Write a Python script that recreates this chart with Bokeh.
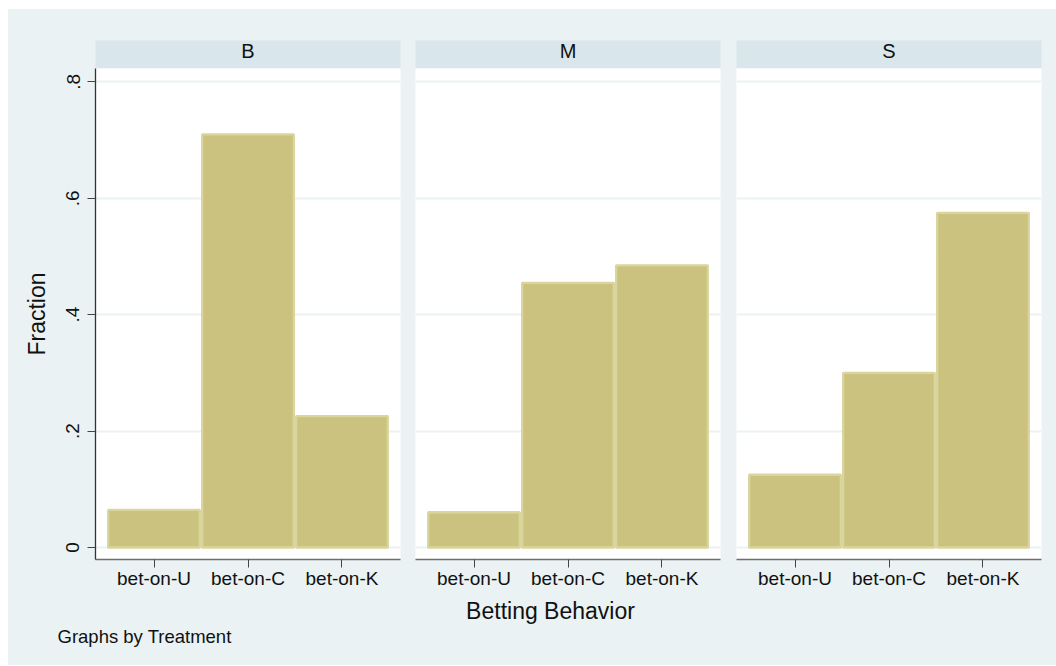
from bokeh.plotting import figure
from bokeh.models import FactorRange, Range1d, FixedTicker, Label, Spacer
from bokeh.layouts import row, column
from bokeh.embed import file_html
from bokeh.resources import INLINE

# ---------------- data ----------------
treatments = ["B", "M", "S"]
categories = ["bet-on-U", "bet-on-C", "bet-on-K"]
frac_B = [0.0645, 0.7097, 0.2258]
frac_M = [0.0606, 0.4545, 0.4848]
frac_S = [0.125, 0.300, 0.575]
y_ticks = [0, 0.2, 0.4, 0.6, 0.8]
y_tick_labels = ["0", ".2", ".4", ".6", ".8"]
y_title = "Fraction"
x_title = "Betting Behavior"
note = "Graphs by Treatment"

# ---------------- style ----------------
FONT = "Liberation Sans"
BG = "#EAF2F3"
STRIP = "#D9E6EB"
BAR_FILL = "#CAC27E"
BAR_LINE = "#DAD59D"
TXT = "#111111"

series = [frac_B, frac_M, frac_S]
widths = [400, 320, 328]
left_b = [87, 7, 8]
right_b = [8, 8, 15]

headers = []
panels = []
for i, (name, vals) in enumerate(zip(treatments, series)):
    # header strip
    h = figure(width=widths[i], height=59, x_range=Range1d(0, 1), y_range=Range1d(0, 28),
               toolbar_location=None, output_backend="svg",
               x_axis_location=None, y_axis_location=None,
               min_border_left=left_b[i], min_border_right=right_b[i],
               min_border_top=31, min_border_bottom=0)
    h.background_fill_color = STRIP
    h.border_fill_color = BG
    h.outline_line_color = None
    h.grid.visible = False
    h.add_layout(Label(x=0.5, y=17.8, text=name, text_align="center",
                       text_baseline="alphabetic", text_font=FONT,
                       text_font_size="20px", text_color=TXT))
    headers.append(h)

    # panel
    p = figure(width=widths[i], height=531,
               x_range=FactorRange(factors=categories, range_padding=0.0817),
               y_range=Range1d(-0.0206, 0.8229),
               toolbar_location=None, output_backend="svg",
               y_axis_location="left" if i == 0 else None,
               min_border_left=left_b[i], min_border_right=right_b[i],
               min_border_top=0, min_border_bottom=40)
    p.background_fill_color = "white"
    p.border_fill_color = BG
    p.outline_line_color = None
    p.xgrid.visible = False
    p.ygrid.ticker = FixedTicker(ticks=y_ticks)
    p.ygrid.grid_line_color = BG
    p.ygrid.grid_line_width = 2

    p.vbar(x=categories, top=vals, bottom=0, width=0.975,
           fill_color=BAR_FILL, line_color=BAR_LINE, line_width=2.3)

    xa = p.xaxis[0]
    xa.axis_line_color = "#6E6E6E"
    xa.axis_line_width = 1.3
    xa.major_tick_line_color = "#444444"
    xa.major_tick_out = 8
    xa.major_tick_in = 0
    xa.minor_tick_line_color = None
    xa.major_label_text_font = FONT
    xa.major_label_text_font_size = "19px"
    xa.major_label_text_color = TXT
    xa.major_label_standoff = 0

    if i == 0:
        ya = p.yaxis[0]
        ya.ticker = FixedTicker(ticks=y_ticks)
        ya.major_label_overrides = dict(zip(y_ticks, y_tick_labels))
        ya.major_label_orientation = "vertical"
        ya.axis_line_color = "#333333"
        ya.axis_line_width = 1.3
        ya.major_tick_line_color = "#444444"
        ya.major_tick_out = 8
        ya.major_tick_in = 0
        ya.minor_tick_line_color = None
        ya.major_label_text_font = FONT
        ya.major_label_text_font_size = "19px"
        ya.major_label_text_color = TXT
        ya.major_label_standoff = 8
        ya.axis_label = y_title
        ya.axis_label_text_font = FONT
        ya.axis_label_text_font_size = "23px"
        ya.axis_label_text_font_style = "normal"
        ya.axis_label_text_color = TXT
        ya.axis_label_standoff = 14
    panels.append(p)

# footer with x title and note
f = figure(width=1048, height=66, x_range=Range1d(8, 1056), y_range=Range1d(0, 66),
           toolbar_location=None, output_backend="svg",
           x_axis_location=None, y_axis_location=None,
           min_border_left=0, min_border_right=0, min_border_top=0, min_border_bottom=0)
f.background_fill_color = BG
f.border_fill_color = BG
f.outline_line_color = None
f.grid.visible = False
f.add_layout(Label(x=550, y=55, text=x_title, text_align="center",
                   text_baseline="alphabetic", text_font=FONT,
                   text_font_size="23px", text_color=TXT))
f.add_layout(Label(x=57, y=28.7, text=note, text_align="left",
                   text_baseline="alphabetic", text_font=FONT,
                   text_font_size="18.5px", text_color=TXT))

graph = column(row(*headers, spacing=0, styles={"background-color": BG}),
               row(*panels, spacing=0, styles={"background-color": BG}),
               f, spacing=0, styles={"background-color": BG})

layout = column(Spacer(width=1056, height=9),
                row(Spacer(width=8, height=656), graph, spacing=0),
                spacing=0)

open("out.html", "w").write(file_html(layout, INLINE))
